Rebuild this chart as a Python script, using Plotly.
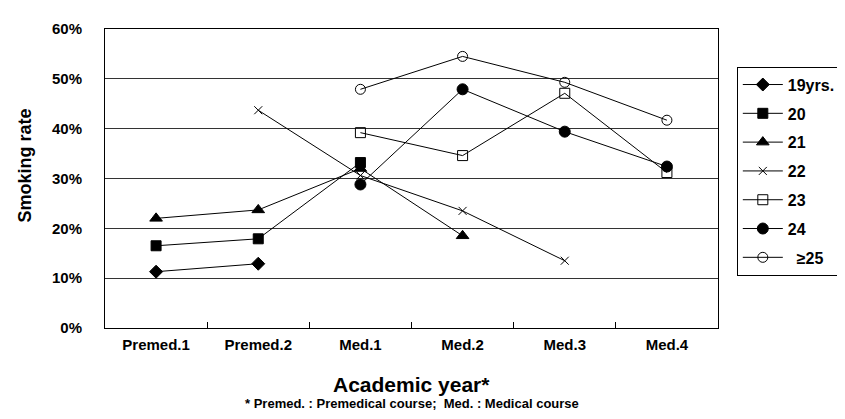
import plotly.graph_objects as go

categories = ["Premed.1", "Premed.2", "Med.1", "Med.2", "Med.3", "Med.4"]
series_names = ["19yrs.", "20", "21", "22", "23", "24", "  \u226525"]
s19 = [11.3, 12.9, None, None, None, None]
s20 = [16.5, 17.9, 33.2, None, None, None]
s21 = [22.0, 23.7, 32.0, 18.5, None, None]
s22 = [None, 43.7, 30.6, 23.5, 13.5, None]
s23 = [None, None, 39.2, 34.6, 47.1, 31.2]
s24 = [None, None, 28.8, 47.9, 39.4, 32.4]
s25 = [None, None, 47.9, 54.5, 49.3, 41.7]
y_ticks = [0, 10, 20, 30, 40, 50, 60]
y_ticklabels = ["0%", "10%", "20%", "30%", "40%", "50%", "60%"]

symbols = ["diamond", "square", "triangle-up", "x-thin", "square-open", "circle", "circle-open"]
sizes = [10, 10, 11, 8, 10, 11, 10]
all_series = [s19, s20, s21, s22, s23, s24, s25]

FONT = "Liberation Sans, Arial"

fig = go.Figure()
for i, (name, vals, sym, sz) in enumerate(zip(series_names, all_series, symbols, sizes)):
    fig.add_trace(go.Scatter(
        x=categories, y=vals, name=name, mode="lines+markers",
        line=dict(color="black", width=1),
        marker=dict(symbol=sym, size=sz, color="black",
                    line=dict(color="black", width=1)),
        connectgaps=False, legendgroup=f"g{i}",
    ))

fig.update_layout(
    width=845, height=419,
    margin=dict(l=97, r=129, t=18, b=99),
    paper_bgcolor="white", plot_bgcolor="white",
    font=dict(family=FONT, size=13, color="black"),
    showlegend=True,
    legend=dict(
        x=(735 - 97) / 619, xanchor="left", y=(320 - 56) / 302, yanchor="top",
        bordercolor="black", borderwidth=1, bgcolor="white",
        font=dict(family=FONT, size=16, color="black", weight="bold"),
        tracegroupgap=5, itemwidth=40,
    ),
    xaxis=dict(
        type="category", categoryorder="array", categoryarray=categories,
        showline=True, linecolor="black", linewidth=1, mirror=True,
        ticks="inside", ticklen=6, tickcolor="black", tickson="boundaries",
        showgrid=False, ticklabelstandoff=3,
        tickfont=dict(family=FONT, size=15, weight="bold"),
        range=[-0.5, 5.5],
    ),
    yaxis=dict(
        range=[0, 60], tickvals=y_ticks, ticktext=y_ticklabels,
        showline=True, linecolor="black", linewidth=1, mirror=True,
        showgrid=True, gridcolor="#333333", gridwidth=1,
        ticks="", ticklabelstandoff=19,
        tickfont=dict(family=FONT, size=15, weight="bold"),
        zeroline=False,
    ),
    annotations=[
        dict(text="Smoking rate", x=-(97 - 16) / 619, y=(320 - 156) / 302,
             xref="paper", yref="paper", xanchor="center", yanchor="middle",
             showarrow=False, textangle=-90,
             font=dict(family=FONT, size=18, weight="bold")),
        dict(text="Academic year*", x=0.5, y=-(377 - 320) / 302,
             xref="paper", yref="paper", xanchor="center", yanchor="middle",
             showarrow=False,
             font=dict(family=FONT, size=21, weight="bold")),
        dict(text="* Premed. : Premedical course;  Med. : Medical course", x=0.5,
             y=-(396 - 320) / 302, xref="paper", yref="paper",
             xanchor="center", yanchor="middle", showarrow=False,
             font=dict(family=FONT, size=13, weight="bold")),
    ],
)

fig.write_html("out.html")
